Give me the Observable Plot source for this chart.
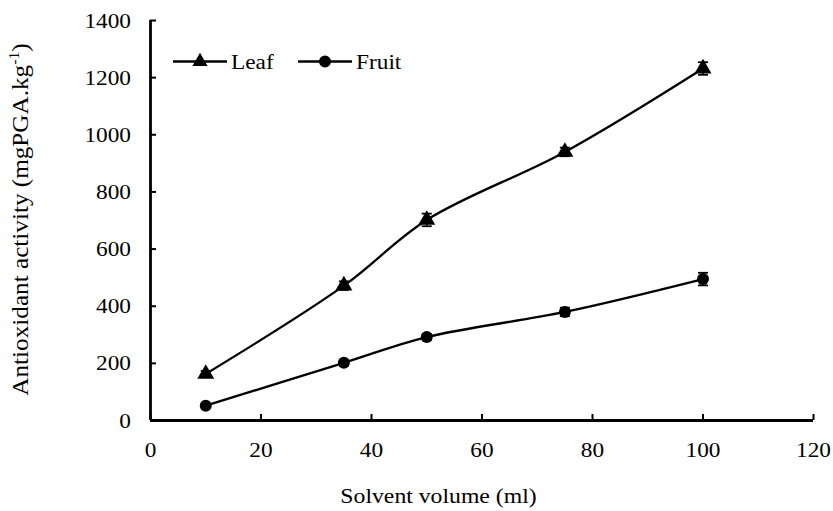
<!DOCTYPE html>
<html>
<head>
<meta charset="utf-8">
<script src="https://cdn.jsdelivr.net/npm/d3@7"></script>
<script src="https://cdn.jsdelivr.net/npm/@observablehq/plot@0.6"></script>
<style>
  body { margin: 0; background: #fff; }
  #wrap { position: relative; width: 833px; height: 511px; }
  #wrap svg text { font-family: "Liberation Serif", "DejaVu Serif", serif !important; }
</style>
</head>
<body>
<div id="wrap"></div>
<script>
const volumes = [10, 35, 50, 75, 100];
const leafValues = [163, 472, 702, 940, 1232];
const leafErrors = [10, 15, 22, 15, 22];
const fruitValues = [52, 202, 292, 380, 495];
const fruitErrors = [5, 10, 10, 15, 22];
const xTicks = [0, 20, 40, 60, 80, 100, 120];
const yTicks = [0, 200, 400, 600, 800, 1000, 1200, 1400];
const seriesNames = ["Leaf", "Fruit"];

const data = [];
volumes.forEach((v, i) => data.push({series: "Leaf", x: v, y: leafValues[i], e: leafErrors[i]}));
volumes.forEach((v, i) => data.push({series: "Fruit", x: v, y: fruitValues[i], e: fruitErrors[i]}));

const capSymbol = {
  draw(context, size) {
    context.moveTo(-5, 0);
    context.lineTo(5, 0);
  }
};

const font = "Liberation Serif, DejaVu Serif, serif";

const chart = Plot.plot({
  width: 833,
  height: 511,
  marginLeft: 150,
  marginRight: 20,
  marginTop: 20,
  marginBottom: 91,
  style: {fontFamily: font, fontSize: "22px", color: "black", background: "white"},
  x: {domain: [0, 120], ticks: xTicks},
  y: {domain: [0, 1400], ticks: yTicks},
  marks: [
    Plot.axisX({ticks: xTicks, tickSize: -6, tickPadding: 27, label: null, strokeWidth: 2, tickFormat: d => String(d)}),
    Plot.axisY({ticks: yTicks, tickSize: -6, tickPadding: 25.5, label: null, strokeWidth: 2, tickFormat: d => String(d)}),
    Plot.ruleY([0], {strokeWidth: 2.8}),
    Plot.ruleX([0], {strokeWidth: 2.8}),
    Plot.line(data, {x: "x", y: "y", z: "series", curve: "catmull-rom", stroke: "black", strokeWidth: 2.3}),
    Plot.ruleX(data, {x: "x", y1: d => d.y - d.e, y2: d => d.y + d.e, stroke: "black", strokeWidth: 1.5}),
    Plot.dot(data, {x: "x", y: d => d.y + d.e, symbol: capSymbol, stroke: "black", strokeWidth: 1.8}),
    Plot.dot(data, {x: "x", y: d => d.y - d.e, symbol: capSymbol, stroke: "black", strokeWidth: 1.8}),
    Plot.dot(data.filter(d => d.series === "Leaf"), {x: "x", y: "y", symbol: "triangle", r: 6.3, fill: "black", stroke: "none"}),
    Plot.dot(data.filter(d => d.series === "Fruit"), {x: "x", y: "y", symbol: "circle", r: 6, fill: "black", stroke: "none"})
  ]
});

document.getElementById("wrap").appendChild(chart);

const svg = d3.select(chart);

// slight horizontal stretch of axis tick labels (reference text is wide)
svg.selectAll("text").each(function() {
  const t = this.getAttribute("transform") || "";
  this.setAttribute("transform", t + " scale(1.06,1)");
});

// Y-axis title with superscript
const yt = svg.append("text")
  .attr("transform", "translate(28,219.5) rotate(-90) scale(1.12,1)")
  .attr("text-anchor", "middle")
  .attr("font-size", 22.5)
  .attr("fill", "black");
yt.append("tspan").text("Antioxidant activity (mgPGA.kg");
yt.append("tspan").attr("font-size", 14).attr("dy", -9).text("-1");
yt.append("tspan").attr("dy", 9).text(")");

// X-axis title
svg.append("text")
  .attr("transform", "translate(438.5,503) scale(1.13,1)")
  .attr("text-anchor", "middle")
  .attr("font-size", 21)
  .attr("fill", "black")
  .text("Solvent volume (ml)");

// Legend
const lg = svg.append("g").attr("font-size", 22).attr("fill", "black");
const legendItems = [
  {name: seriesNames[0], x0: 173, sym: d3.symbolTriangle, size: 100},
  {name: seriesNames[1], x0: 298, sym: d3.symbolCircle, size: 113}
];
legendItems.forEach(it => {
  const g = lg.append("g").attr("transform", `translate(${it.x0},61.5)`);
  g.append("line").attr("x1", 0).attr("x2", 54).attr("y1", 0).attr("y2", 0).attr("stroke", "black").attr("stroke-width", 2.3);
  g.append("path").attr("d", d3.symbol(it.sym, it.size)()).attr("transform", "translate(27,0)").attr("fill", "black");
  g.append("text").attr("transform", "translate(58,7.5) scale(1.06,1)").attr("text-anchor", "start").text(it.name);
});
</script>
</body>
</html>
